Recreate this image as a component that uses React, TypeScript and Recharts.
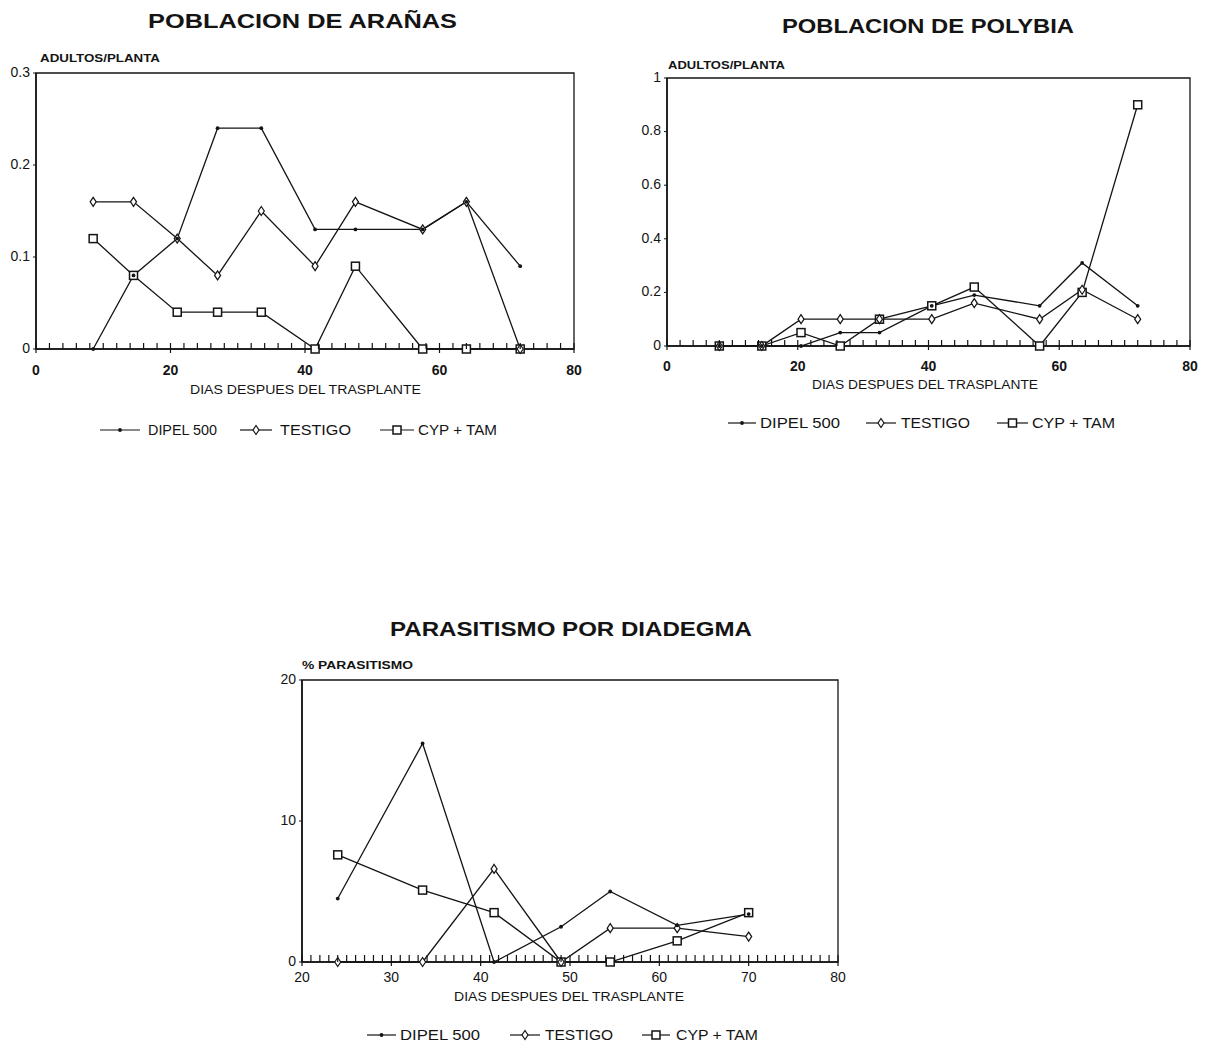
import React from 'react';
import { LineChart, Line, XAxis, YAxis, ReferenceArea } from 'recharts';

const FONT = '"Liberation Sans", Arial, Helvetica, sans-serif';
const INK = '#141414';

// ---------- POBLACION DE ARAÑAS ----------
const aranasDays = [8.5, 14.5, 21, 27, 33.5, 41.5, 47.5, 57.5, 64, 72];
const aranasDipel = [0, 0.08, 0.12, 0.24, 0.24, 0.13, 0.13, 0.13, 0.16, 0.09];
const aranasTestigo = [0.16, 0.16, 0.12, 0.08, 0.15, 0.09, 0.16, 0.13, 0.16, 0];
const aranasCyp = [0.12, 0.08, 0.04, 0.04, 0.04, 0, 0.09, 0, 0, 0];
const aranasYTicks = [0, 0.1, 0.2, 0.3];
const aranasXTicks = [0, 20, 40, 60, 80];

// ---------- POBLACION DE POLYBIA ----------
const polybiaDays = [8, 14.5, 20.5, 26.5, 32.5, 40.5, 47, 57, 63.5, 72];
const polybiaDipel = [0, 0, 0, 0.05, 0.05, 0.15, 0.19, 0.15, 0.31, 0.15];
const polybiaTestigo = [0, 0, 0.1, 0.1, 0.1, 0.1, 0.16, 0.1, 0.21, 0.1];
const polybiaCyp = [0, 0, 0.05, 0, 0.1, 0.15, 0.22, 0, 0.2, 0.9];
const polybiaYTicks = [0, 0.2, 0.4, 0.6, 0.8, 1];
const polybiaXTicks = [0, 20, 40, 60, 80];

// ---------- PARASITISMO POR DIADEGMA ----------
const diadegmaDays = [24, 33.5, 41.5, 49, 54.5, 62, 70];
const diadegmaDipel = [4.5, 15.5, 0, 2.5, 5, 2.6, 3.4];
const diadegmaTestigo = [0, 0, 6.6, 0, 2.4, 2.4, 1.8];
const diadegmaCyp = [7.6, 5.1, 3.5, 0, 0, 1.5, 3.5];
const diadegmaYTicks = [0, 10, 20];
const diadegmaXTicks = [20, 30, 40, 50, 60, 70, 80];

const seriesNames = ['DIPEL 500', 'TESTIGO', 'CYP + TAM'];
const titles = ['POBLACION DE ARAÑAS', 'POBLACION DE POLYBIA', 'PARASITISMO POR DIADEGMA'];
const yLabels = ['ADULTOS/PLANTA', 'ADULTOS/PLANTA', '% PARASITISMO'];
const xLabel = 'DIAS DESPUES DEL TRASPLANTE';

type Row = { day: number; dipel: number; testigo: number; cyp: number };
const buildRows = (days: number[], a: number[], b: number[], c: number[]): Row[] =>
  days.map((d, i) => ({ day: d, dipel: a[i], testigo: b[i], cyp: c[i] }));

const minorTicks = (from: number, to: number, step: number) => {
  const out: number[] = [];
  for (let v = from; v <= to + 1e-9; v += step) out.push(Math.round(v * 1000) / 1000);
  return out;
};

const DipelDot = (p: any) => {
  const { cx, cy, index } = p;
  if (cx == null || cy == null) return <g key={`dp${index}`} />;
  return <circle key={`dp${index}`} cx={cx} cy={cy} r={1.9} fill={INK} />;
};
const TestigoDot = (p: any) => {
  const { cx, cy, index } = p;
  if (cx == null || cy == null) return <g key={`ts${index}`} />;
  return (
    <path
      key={`ts${index}`}
      d={`M${cx},${cy - 4.5} L${cx + 3},${cy} L${cx},${cy + 4.5} L${cx - 3},${cy} Z`}
      fill="#fff"
      stroke={INK}
      strokeWidth={1.2}
    />
  );
};
const CypDot = (p: any) => {
  const { cx, cy, index } = p;
  if (cx == null || cy == null) return <g key={`cy${index}`} />;
  return <rect key={`cy${index}`} x={cx - 4} y={cy - 4} width={8} height={8} fill="#fff" stroke={INK} strokeWidth={1.5} />;
};

type PanelProps = {
  left: number;
  top: number;
  width: number;
  height: number;
  margin: { top: number; right: number; bottom: number; left: number };
  yWidth: number;
  xHeight: number;
  xDomain: [number, number];
  yDomain: [number, number];
  yTicks: number[];
  xMajor: number[];
  minorStep: number;
  rows: Row[];
  boldX: boolean;
  labelDy: number;
  tickLen: number;
};

function Panel(props: PanelProps) {
  const { left, top, width, height, margin, yWidth, xHeight, xDomain, yDomain, yTicks, xMajor, minorStep, rows, boldX, labelDy, tickLen } = props;
  const XTick = (tp: any) => {
    const { x, y, payload } = tp;
    const v = payload.value;
    const isMajor = xMajor.includes(v);
    return (
      <g>
        <line x1={x} x2={x} y1={y - tickLen} y2={y + (isMajor ? 4 : 0)} stroke={INK} strokeWidth={1.2} />
        {isMajor && (
          <text x={x} y={y + labelDy} textAnchor="middle" dominantBaseline="middle" fontSize={14} fontWeight={boldX ? 700 : 400} fill={INK} fontFamily={FONT}>
            {v}
          </text>
        )}
      </g>
    );
  };
  const YTick = (tp: any) => {
    const { x, y, payload } = tp;
    return (
      <text x={x} y={y} textAnchor="end" dominantBaseline="middle" fontSize={14} fill={INK} fontFamily={FONT}>
        {payload.value}
      </text>
    );
  };
  return (
    <div style={{ position: 'absolute', left, top }}>
      <LineChart width={width} height={height} data={rows} margin={margin}>
        <ReferenceArea x1={xDomain[0]} x2={xDomain[1]} y1={yDomain[0]} y2={yDomain[1]} fill="none" stroke={INK} strokeWidth={1.3} />
        <XAxis
          dataKey="day"
          type="number"
          domain={xDomain}
          ticks={minorTicks(xDomain[0], xDomain[1], minorStep)}
          interval={0}
          tickSize={0}
          tickMargin={0}
          tick={XTick}
          height={xHeight}
          axisLine={{ stroke: INK, strokeWidth: 1.6 }}
          allowDecimals
        />
        <YAxis
          type="number"
          domain={yDomain}
          ticks={yTicks}
          interval={0}
          width={yWidth}
          tickSize={3}
          tickMargin={3}
          tick={YTick}
          axisLine={{ stroke: INK, strokeWidth: 1.6 }}
          tickLine={{ stroke: INK }}
        />
        <Line type="linear" dataKey="cyp" stroke={INK} strokeWidth={1.3} dot={CypDot} activeDot={false} isAnimationActive={false} />
        <Line type="linear" dataKey="testigo" stroke={INK} strokeWidth={1.3} dot={TestigoDot} activeDot={false} isAnimationActive={false} />
        <Line type="linear" dataKey="dipel" stroke={INK} strokeWidth={1.3} dot={DipelDot} activeDot={false} isAnimationActive={false} />
      </LineChart>
    </div>
  );
}

// layout of the text overlay (positions only)
const titleBoxes = [
  { x: 148, w: 309, y: 28 },
  { x: 782, w: 292, y: 33 },
  { x: 390, w: 362, y: 636 },
];
const yLabelBoxes = [
  { x: 40, w: 120, y: 62 },
  { x: 668, w: 117, y: 69 },
  { x: 302, w: 111, y: 669 },
];
const xLabelBoxes = [
  { x: 190, w: 231, y: 394 },
  { x: 812, w: 226, y: 389 },
  { x: 454, w: 230, y: 1001 },
];
const legendBoxes = [
  { y: 430, items: [{ g: [100, 140], t: [148, 217] }, { g: [240, 272], t: [280, 351] }, { g: [380, 414], t: [418, 497] }] },
  { y: 423, items: [{ g: [728, 756], t: [760, 840] }, { g: [866, 896], t: [901, 970] }, { g: [997, 1028], t: [1032, 1115] }] },
  { y: 1035, items: [{ g: [367, 396], t: [400, 480] }, { g: [510, 540], t: [545, 613] }, { g: [642, 670], t: [676, 758] }] },
];

function Glyph({ kind, x1, x2, y }: { kind: number; x1: number; x2: number; y: number }) {
  const cx = (x1 + x2) / 2;
  return (
    <g>
      <line x1={x1} x2={x2} y1={y} y2={y} stroke={INK} strokeWidth={1.2} />
      {kind === 0 && <circle cx={cx} cy={y} r={1.9} fill={INK} />}
      {kind === 1 && <path d={`M${cx},${y - 4.5} L${cx + 3},${y} L${cx},${y + 4.5} L${cx - 3},${y} Z`} fill="#fff" stroke={INK} strokeWidth={1.2} />}
      {kind === 2 && <rect x={cx - 4} y={y - 4} width={8} height={8} fill="#fff" stroke={INK} strokeWidth={1.5} />}
    </g>
  );
}

export default function App() {
  const aranasRows = buildRows(aranasDays, aranasDipel, aranasTestigo, aranasCyp);
  const polybiaRows = buildRows(polybiaDays, polybiaDipel, polybiaTestigo, polybiaCyp);
  const diadegmaRows = buildRows(diadegmaDays, diadegmaDipel, diadegmaTestigo, diadegmaCyp);

  return (
    <div style={{ position: 'absolute', left: 0, top: 0, width: 1207, height: 1046, background: '#fff', fontFamily: FONT, overflow: 'hidden' }}>
      <Panel
        left={0}
        top={40}
        width={600}
        height={360}
        margin={{ top: 33, right: 26, bottom: 1, left: 6 }}
        yWidth={30}
        xHeight={50}
        xDomain={[0, 80]}
        yDomain={[0, 0.3]}
        yTicks={aranasYTicks}
        xMajor={aranasXTicks}
        minorStep={2}
        rows={aranasRows}
        boldX
        labelDy={22}
        tickLen={6}
      />
      <Panel
        left={620}
        top={40}
        width={587}
        height={360}
        margin={{ top: 38, right: 17, bottom: 4, left: 7 }}
        yWidth={40}
        xHeight={50}
        xDomain={[0, 80]}
        yDomain={[0, 1]}
        yTicks={polybiaYTicks}
        xMajor={polybiaXTicks}
        minorStep={2}
        rows={polybiaRows}
        boldX
        labelDy={21}
        tickLen={6}
      />
      <Panel
        left={250}
        top={640}
        width={620}
        height={360}
        margin={{ top: 40, right: 32, bottom: 8, left: 12 }}
        yWidth={40}
        xHeight={30}
        xDomain={[20, 80]}
        yDomain={[0, 20]}
        yTicks={diadegmaYTicks}
        xMajor={diadegmaXTicks}
        minorStep={1}
        rows={diadegmaRows}
        boldX={false}
        labelDy={16}
        tickLen={7}
      />
      <svg width={1207} height={1046} style={{ position: 'absolute', left: 0, top: 0, pointerEvents: 'none' }}>
        {titles.map((t, i) => (
          <text key={`t${i}`} x={titleBoxes[i].x} y={titleBoxes[i].y} textLength={titleBoxes[i].w} lengthAdjust="spacingAndGlyphs" fontSize={21} fontWeight={700} fill={INK} fontFamily={FONT}>
            {t}
          </text>
        ))}
        {yLabels.map((t, i) => (
          <text key={`yl${i}`} x={yLabelBoxes[i].x} y={yLabelBoxes[i].y} textLength={yLabelBoxes[i].w} lengthAdjust="spacingAndGlyphs" fontSize={10.5} fontWeight={700} fill={INK} fontFamily={FONT}>
            {t}
          </text>
        ))}
        {xLabelBoxes.map((b, i) => (
          <text key={`xl${i}`} x={b.x} y={b.y} textLength={b.w} lengthAdjust="spacingAndGlyphs" fontSize={12} fill={INK} fontFamily={FONT}>
            {xLabel}
          </text>
        ))}
        {legendBoxes.map((lg, li) => (
          <g key={`lg${li}`}>
            {lg.items.map((it, k) => (
              <g key={`lgi${k}`}>
                <Glyph kind={k} x1={it.g[0]} x2={it.g[1]} y={lg.y} />
                <text x={it.t[0]} y={lg.y + 5} textLength={it.t[1] - it.t[0]} lengthAdjust="spacingAndGlyphs" fontSize={14} fill={INK} fontFamily={FONT}>
                  {seriesNames[k]}
                </text>
              </g>
            ))}
          </g>
        ))}
      </svg>
    </div>
  );
}
